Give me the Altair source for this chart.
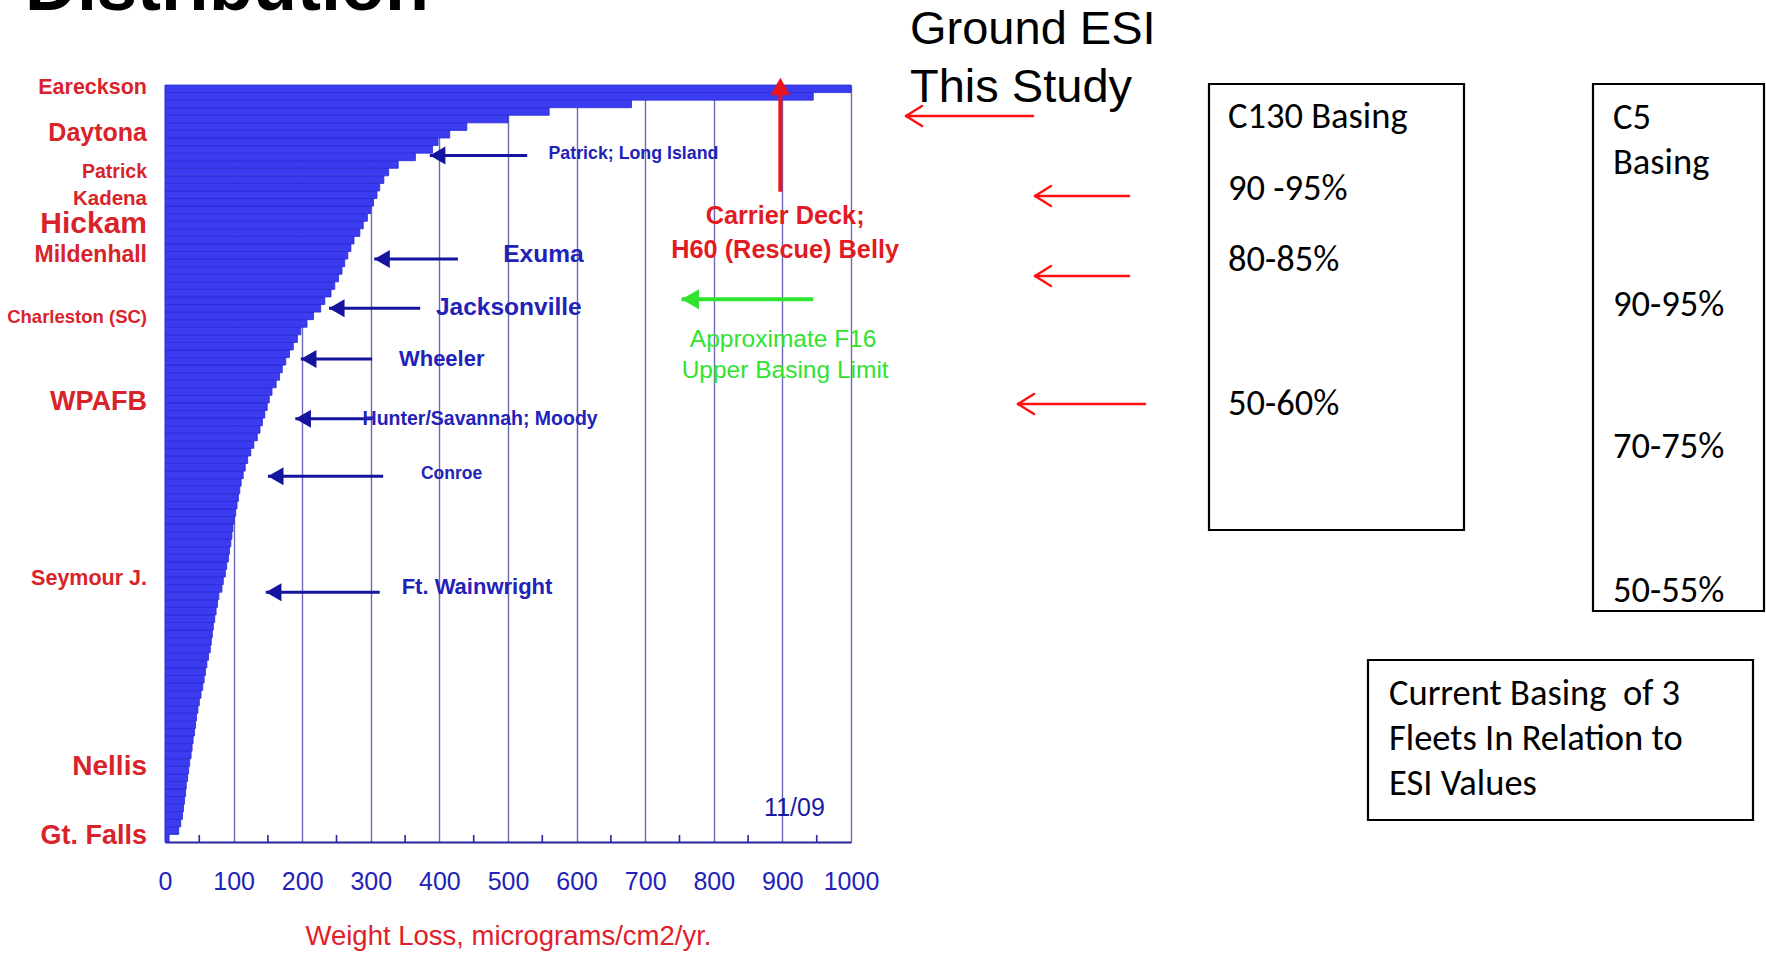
import altair as alt
import pandas as pd

# ---------------------------------------------------------------- geometry
PAGE_W, PAGE_H = 1766, 953
PLOT_X, PLOT_Y = 165, 85          # top-left corner of the plotting area on the page
PLOT_W, PLOT_H = 686, 757

# ---------------------------------------------------------------- data
# Weight loss (micrograms/cm2/yr) of the ranked sites, lowest first;
# one row per percent of all sites.
weight_loss = [
    6, 20, 23, 25.5, 27, 28.5, 30, 31, 33, 34.5,
    36, 38, 39.5, 41, 43, 44.5, 46, 48, 50, 52.5,
    55, 57, 59, 61, 63.5, 66, 67.5, 69, 70.5, 72.5,
    74.5, 76.5, 78.5, 83, 85, 88, 90, 92.5, 94, 96,
    97.5, 99, 101, 103, 105, 107, 109, 111, 114, 117,
    120.5, 125, 129.5, 134.5, 138.5, 142, 145.5, 149, 152, 156,
    162, 167, 171, 176, 181.5, 187, 193, 198, 207, 216.5,
    227, 233, 242, 247.5, 253, 258, 262, 266.5, 271, 275.5,
    284, 289, 295, 300, 304, 309, 313, 319, 326, 340,
    365, 390, 398, 415, 440, 500, 560, 680, 945, 1000,
]

# Named sites and their rank (percent of sites below them)
site_names = ["Gt. Falls", "Nellis", "Seymour J.", "WPAFB", "Charleston (SC)",
              "Mildenhall", "Hickam", "Kadena", "Patrick", "Daytona", "Eareckson"]
site_rank = [0.8, 9.9, 34.7, 58.1, 69.4, 77.5, 81.6, 85.0, 88.5, 93.7, 99.6]

# Call-outs: where each arrow points on the distribution
callout_names = ["Patrick; Long Island", "Exuma", "Jacksonville", "Wheeler",
                 "Hunter/Savannah; Moody", "Conroe", "Ft. Wainwright"]
callout_value = [386, 305, 239, 198, 190, 150, 147]
callout_rank = [90.7, 77.0, 70.5, 63.8, 55.9, 48.3, 33.0]

carrier_deck_value = 897
f16_limit_value = 753
f16_limit_rank = 71.7

x_ticks = [0, 100, 200, 300, 400, 500, 600, 700, 800, 900, 1000]
minor_ticks = [50, 150, 250, 350, 450, 550, 650, 750, 850, 950]

c130_lines = ["C130 Basing", "90 -95%", "80-85%", "50-60%"]
c5_lines = ["C5", "Basing", "90-95%", "70-75%", "50-55%"]
note_lines = ["Current Basing\u00a0 of 3", "Fleets In Relation to", "ESI Values"]

# ---------------------------------------------------------------- styling / layout
BLUE_FILL = "#3b3bef"
BLUE_EDGE = "#2a2ad6"
NAVY = "#14149e"
NAVY_TEXT = "#2222b8"
RED = "#d9232b"
GREEN = "#2fe32f"
SANS = "Liberation Sans"
BOX_FONT = "Carlito, Lato, sans-serif"

site_size = {"Eareckson": 21.5, "Daytona": 25, "Patrick": 19.5, "Kadena": 20.5,
             "Hickam": 30, "Mildenhall": 23, "Charleston (SC)": 18.5, "WPAFB": 27,
             "Seymour J.": 21.5, "Nellis": 28, "Gt. Falls": 27}

callout_shaft_end = [528, 427, 372, 302, 302, 318, 313]
callout_text_x = [559, 493, 395, 341, 288, 373, 345]
callout_text_rank = [90.9, 77.6, 70.5, 63.8, 55.9, 48.6, 33.7]
callout_text_size = [17.8, 24.5, 24.5, 22, 19.5, 17.5, 22]

xs = alt.Scale(domain=[0, 1000], nice=False, zero=False)
ys = alt.Scale(domain=[0, 100], nice=False, zero=False)

xaxis = alt.Axis(
    values=x_ticks, format="d", grid=True, gridColor="#6a6ab4", gridWidth=1.4,
    domainColor="#25259c", domainWidth=2.2, ticks=False,
    labelColor=NAVY_TEXT, labelFont=SANS, labelFontSize=25,
    labelPadding=39, labelBaseline="middle", labelFlush=False, labelOverlap=False,
    title="Weight Loss, micrograms/cm2/yr.", titleColor="#e0202a", titleFont=SANS,
    titleFontSize=27.5, titleFontWeight="normal", titleY=94, titleBaseline="middle",
)


def X(field):
    return alt.X(field, type="quantitative", scale=xs, axis=xaxis)


def Y(field):
    return alt.Y(field, type="quantitative", scale=ys, axis=None)


def PX(field):
    return alt.X(field, type="quantitative", scale=None, axis=None)


def PY(field):
    return alt.Y(field, type="quantitative", scale=None, axis=None)


# ---------------------------------------------------------------- distribution bars
bars_df = pd.DataFrame({
    "rank_lo": list(range(len(weight_loss))),
    "rank_hi": [i + 1 for i in range(len(weight_loss))],
    "loss": weight_loss,
})
bars = alt.Chart(bars_df).mark_rect(
    fill=BLUE_FILL, stroke=BLUE_EDGE, strokeWidth=0.8
).encode(
    x=alt.X("zero:Q", scale=xs, axis=xaxis), x2="loss:Q",
    y=Y("rank_lo"), y2="rank_hi:Q",
).transform_calculate(zero="0")

minor = alt.Chart(pd.DataFrame({"tick": minor_ticks})).mark_rule(
    color="#25259c", strokeWidth=1.6
).encode(x=X("tick"), y=alt.value(PLOT_H), y2=alt.value(PLOT_H - 7))

# ---------------------------------------------------------------- site labels
sites_df = pd.DataFrame({"site": site_names, "rank": site_rank})
sites_df["fs"] = sites_df["site"].map(site_size)
site_labels = alt.Chart(sites_df).mark_text(
    align="right", baseline="middle", font=SANS, fontWeight="bold", color=RED
).encode(x=alt.value(-18), y=Y("rank"), text="site:N",
         size=alt.Size("fs:Q", scale=None, legend=None))

# ---------------------------------------------------------------- call-out arrows
co_df = pd.DataFrame({
    "name": callout_names, "tip": callout_value, "rank": callout_rank,
    "end": callout_shaft_end, "tx": callout_text_x, "trank": callout_text_rank,
    "fs": callout_text_size,
})
co_shaft = alt.Chart(co_df).mark_rule(color=NAVY, strokeWidth=3).encode(
    x=X("tip"), x2="end:Q", y=Y("rank"))
co_head = alt.Chart(co_df).mark_point(
    shape="triangle-left", size=324, filled=True, opacity=1, color=NAVY, xOffset=7.8
).encode(x=X("tip"), y=Y("rank"))
co_text = alt.Chart(co_df).mark_text(
    align="left", baseline="middle", font=SANS, fontWeight="bold", color=NAVY_TEXT
).encode(x=X("tx"), y=Y("trank"), text="name:N",
         size=alt.Size("fs:Q", scale=None, legend=None))

# carrier deck (red, upward) and F16 limit (green, leftward)
carrier_df = pd.DataFrame({"v": [carrier_deck_value], "lo": [85.9], "hi": [99.2]})
carrier_shaft = alt.Chart(carrier_df).mark_rule(color="#e8141e", strokeWidth=4).encode(
    x=X("v"), y=Y("lo"), y2="hi:Q")
carrier_head = alt.Chart(carrier_df).mark_point(
    shape="triangle-up", size=400, filled=True, opacity=1, color="#e8141e"
).encode(x=X("v"), y=alt.Y("top:Q", scale=ys, axis=None)).transform_calculate(top="99.8")
carrier_text = alt.Chart(pd.DataFrame({
    "t": ["Carrier Deck;", "H60 (Rescue) Belly"], "v": [904, 904], "r": [82.7, 78.2]
})).mark_text(align="center", baseline="middle", font=SANS, fontSize=25.3,
              fontWeight="bold", color="#e21b23").encode(
    x=X("v"), y=Y("r"), text="t:N")

f16_df = pd.DataFrame({"tip": [f16_limit_value], "end": [945], "r": [f16_limit_rank]})
f16_shaft = alt.Chart(f16_df).mark_rule(color=GREEN, strokeWidth=4).encode(
    x=X("tip"), x2="end:Q", y=Y("r"))
f16_head = alt.Chart(f16_df).mark_point(
    shape="triangle-left", size=400, filled=True, opacity=1, color=GREEN, xOffset=8.7
).encode(x=X("tip"), y=Y("r"))
f16_text = alt.Chart(pd.DataFrame({
    "t": ["Approximate F16", "Upper Basing Limit"], "v": [901, 904], "r": [66.3, 62.2]
})).mark_text(align="center", baseline="middle", font=SANS, fontSize=24.5, color=GREEN).encode(
    x=X("v"), y=Y("r"), text="t:N")

date_text = alt.Chart(pd.DataFrame({"t": ["11/09"], "v": [917.6], "r": [4.5]})).mark_text(
    align="center", baseline="middle", font=SANS, fontSize=25, color="#1a1aa0"
).encode(x=X("v"), y=Y("r"), text="t:N")

# ---------------------------------------------------------------- page furniture (pixels)
def rel_x(px):
    return px - PLOT_X


def rel_y(py):
    return py - PLOT_Y


headline = alt.Chart(pd.DataFrame({"t": ["Distribution"], "x": [rel_x(25)], "y": [rel_y(10)]})).mark_text(
    align="left", baseline="alphabetic", font=SANS, fontWeight="bold", fontSize=72, color="black"
).encode(x=PX("x"), y=PY("y"), text="t:N")

esi_text = alt.Chart(pd.DataFrame({
    "t": ["Ground ESI", "This Study"], "x": [rel_x(910)] * 2, "y": [rel_y(30), rel_y(87.5)]
})).mark_text(align="left", baseline="middle", font=SANS, fontSize=47, color="black").encode(
    x=PX("x"), y=PY("y"), text="t:N")

# thin red pointers: (tip x, tail x, y) on the page
pointers = [(906, 1033, 116), (1035, 1129, 196), (1035, 1129, 276), (1018, 1145, 404)]
segs = []
for tip, tail, yy in pointers:
    segs.append((tip, yy, tail, yy))
    segs.append((tip, yy, tip + 16, yy - 10))
    segs.append((tip, yy, tip + 16, yy + 10))
seg_df = pd.DataFrame({
    "x1": [rel_x(s[0]) for s in segs], "y1": [rel_y(s[1]) for s in segs],
    "x2": [rel_x(s[2]) for s in segs], "y2": [rel_y(s[3]) for s in segs],
})
red_pointers = alt.Chart(seg_df).mark_rule(color="#ff1010", strokeWidth=2.4, strokeCap="round").encode(
    x=PX("x1"), y=PY("y1"), x2="x2:Q", y2="y2:Q")

boxes_df = pd.DataFrame({
    "x1": [rel_x(1209), rel_x(1593), rel_x(1368)],
    "x2": [rel_x(1464), rel_x(1764), rel_x(1753)],
    "y1": [rel_y(84), rel_y(84), rel_y(660)],
    "y2": [rel_y(530), rel_y(611), rel_y(820)],
})
boxes = alt.Chart(boxes_df).mark_rect(fill=None, stroke="black", strokeWidth=2.2).encode(
    x=PX("x1"), x2="x2:Q", y=PY("y1"), y2="y2:Q")

box_rows = (
    [(t, 1228, y) for t, y in zip(c130_lines, [117, 188.5, 260, 403.5])]
    + [(t, 1613, y) for t, y in zip(c5_lines, [118, 162.5, 305, 447, 591])]
    + [(t, 1389, y) for t, y in zip(note_lines, [693.5, 739, 784])]
)
box_df = pd.DataFrame({
    "t": [r[0] for r in box_rows],
    "x": [rel_x(r[1]) for r in box_rows],
    "y": [rel_y(r[2]) for r in box_rows],
})
box_text = alt.Chart(box_df).mark_text(
    align="left", baseline="middle", font=BOX_FONT, fontSize=36.5, color="black"
).encode(x=PX("x"), y=PY("y"), text="t:N")

chart = alt.layer(
    bars, minor, site_labels, co_shaft, co_head, co_text,
    carrier_shaft, carrier_head, carrier_text,
    f16_shaft, f16_head, f16_text, date_text,
    headline, esi_text, red_pointers, boxes, box_text,
).properties(
    width=PLOT_W, height=PLOT_H,
    padding={"left": PLOT_X, "top": PLOT_Y,
             "right": PAGE_W - PLOT_X - PLOT_W, "bottom": PAGE_H - PLOT_Y - PLOT_H},
    autosize=alt.AutoSizeParams(type="none"),
    background="white",
).configure_view(stroke=None)

chart.save("out.html", embed_options={"renderer": "svg", "actions": False})
